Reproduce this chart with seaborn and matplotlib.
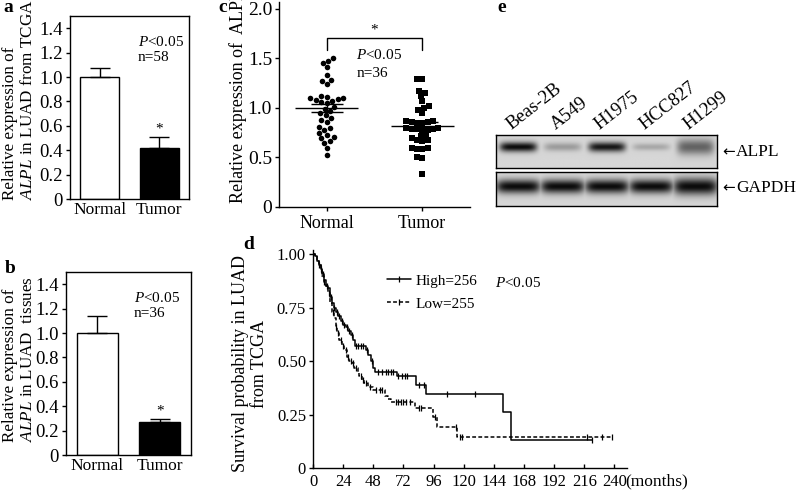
import numpy as np
import pandas as pd
import matplotlib
matplotlib.use('Agg')
import matplotlib.pyplot as plt
from matplotlib.lines import Line2D
import seaborn as sns

# ---------------- data ----------------
groups = ['Normal', 'Tumor']
tcga_mean = [1.00, 0.42]
tcga_err = [0.07, 0.085]
tissue_mean = [1.00, 0.27]
tissue_err = [0.14, 0.022]

normal_expr = [1.50, 1.47, 1.45, 1.41, 1.33, 1.28, 1.27, 1.24, 1.12, 1.11, 1.10, 1.10,
               1.09, 1.08, 1.07, 1.06, 1.05, 1.01, 0.99, 0.97, 0.95, 0.93, 0.90, 0.88,
               0.86, 0.81, 0.80, 0.78, 0.75, 0.73, 0.71, 0.70, 0.67, 0.65, 0.60, 0.53]
tumor_expr = [1.29, 1.29, 1.17, 1.15, 1.12, 1.07, 1.02, 1.00, 0.98, 0.95, 0.87, 0.87,
              0.86, 0.86, 0.85, 0.85, 0.80, 0.80, 0.79, 0.79, 0.79, 0.78, 0.78, 0.73,
              0.72, 0.70, 0.68, 0.68, 0.67, 0.60, 0.60, 0.59, 0.59, 0.50, 0.49, 0.33]

km_high_t = [0, 1.5, 3, 4.5, 6, 7.5, 9, 10, 12, 13.5, 15, 16.5, 18, 20, 22, 24, 26, 28, 30,
             32, 33.5, 42, 44, 46, 48, 49.5, 66.5, 82, 90, 151, 158, 222]
km_high_s = [1.00, 0.99, 0.97, 0.95, 0.93, 0.91, 0.88, 0.85, 0.84, 0.80, 0.77, 0.75, 0.73,
             0.71, 0.69, 0.67, 0.66, 0.64, 0.62, 0.60, 0.57, 0.55, 0.53, 0.50, 0.47, 0.45,
             0.43, 0.39, 0.345, 0.26, 0.13, 0.13]
km_low_t = [0, 1.5, 3, 4.5, 6, 7.5, 9, 10, 12, 13.5, 15, 16.5, 18, 19.5, 21, 23, 25, 27, 29,
            31, 33, 36, 37, 39, 41, 44, 48, 57, 60, 62, 81, 95.5, 99, 115, 238]
km_low_s = [1.00, 0.99, 0.97, 0.95, 0.93, 0.90, 0.87, 0.85, 0.82, 0.77, 0.73, 0.70, 0.66,
            0.63, 0.60, 0.57, 0.55, 0.52, 0.50, 0.49, 0.47, 0.45, 0.43, 0.41, 0.40, 0.38,
            0.365, 0.335, 0.325, 0.31, 0.28, 0.24, 0.19, 0.145, 0.145]
cens_high = [5, 8, 11, 14, 17, 19, 21, 23, 25, 27, 29, 31, 34, 36, 38, 40, 43, 47, 52, 55,
             58, 60, 62, 64, 68, 71, 73, 75, 84, 88, 107, 129, 222]
cens_low = [6, 9, 13, 16, 18, 20, 22, 24, 26, 28, 30, 32, 34, 38, 40, 42, 45, 50, 53, 55,
            66, 68, 70, 72, 74, 77, 84, 86, 97, 114, 117, 119, 218, 230, 238]
km_ticks = [0, 24, 48, 72, 96, 120, 144, 168, 192, 216, 240]

cell_lines = ['Beas-2B', 'A549', 'H1975', 'HCC827', 'H1299']
alpl_level = [0.97, 0.28, 0.92, 0.22, 0.55]
gapdh_level = [0.97, 0.97, 0.97, 0.97, 0.97]

# ---------------- style ----------------
sns.set_style('ticks')
plt.rcParams['font.family'] = ['Liberation Serif', 'DejaVu Serif']
plt.rcParams['mathtext.fontset'] = 'custom'
plt.rcParams['mathtext.rm'] = 'Liberation Serif'
plt.rcParams['mathtext.it'] = 'Liberation Serif:italic'
plt.rcParams['mathtext.bf'] = 'Liberation Serif:bold'
plt.rcParams['axes.edgecolor'] = 'black'
plt.rcParams['axes.linewidth'] = 1.0
plt.rcParams['xtick.color'] = 'black'
plt.rcParams['ytick.color'] = 'black'
plt.rcParams['text.color'] = 'black'

W, H = 797, 493
fig = plt.figure(figsize=(W / 100, H / 100), dpi=100)


def ax_px(l, t, r, b):
    return fig.add_axes([l / W, 1 - b / H, (r - l) / W, (b - t) / H])


ANN_FS = 11
PVAL = r'$\it{P}$<0.05'


def bar_panel(ax, means, errs, n_text, txt_x):
    df = pd.DataFrame({'group': groups, 'value': means})
    sns.barplot(data=df, x='group', y='value', hue='group', order=groups,
                palette=['white', 'black'], edgecolor='black', linewidth=1,
                width=0.66, legend=False, ax=ax)
    ax.errorbar([0, 1], means, yerr=[[0, 0], errs], fmt='none', ecolor='black',
                elinewidth=1, capsize=7.5, capthick=1)
    ax.text(1, means[1] + errs[1] + 0.015, '*', ha='center', va='bottom', fontsize=ANN_FS)
    ax.text(txt_x, 1.29, PVAL, ha='left', va='center', fontsize=ANN_FS)
    ax.text(txt_x, 1.16, n_text, ha='left', va='center', fontsize=ANN_FS)
    ax.set_xlim(-0.5, 1.5)
    ax.set_ylim(0, 1.5)
    ticks = [0, 0.2, 0.4, 0.6, 0.8, 1.0, 1.2, 1.4]
    ax.set_yticks(ticks)
    ax.set_yticklabels(['0'] + ['%.1f' % t for t in ticks[1:]])
    ax.tick_params(axis='y', direction='out', length=3, width=1, pad=2, labelsize=13.5)
    ax.tick_params(axis='x', length=0, pad=2, labelsize=12.5)
    ax.set_xlabel('')
    ax.set_ylabel('')
    for s in ax.spines.values():
        s.set_visible(True)
        s.set_linewidth(1)


# ---- panel a ----
ax_a = ax_px(70, 16, 189, 199)
bar_panel(ax_a, tcga_mean, tcga_err, 'n=58', 0.64)
fig.text(19 / W, 1 - 200 / H, 'Relative expression of\n$\\it{ALPL}$ in LUAD from TCGA',
         rotation=90, ha='center', va='bottom', multialignment='left', fontsize=12.3)

# ---- panel b ----
ax_b = ax_px(66, 272, 191, 455)
bar_panel(ax_b, tissue_mean, tissue_err, 'n=36', 0.58)
fig.text(19 / W, 1 - 442 / H, 'Relative expression of\n$\\it{ALPL}$ in LUAD  tissues',
         rotation=90, ha='center', va='bottom', multialignment='left', fontsize=12.3)

# ---- panel c ----
ax_c = ax_px(279, 2, 470, 207)
sc_df = pd.DataFrame({'group': ['Normal'] * len(normal_expr) + ['Tumor'] * len(tumor_expr),
                      'value': normal_expr + tumor_expr})
sns.swarmplot(data=sc_df[sc_df.group == 'Normal'], x='group', y='value', order=groups,
              marker='o', color='black', size=4.0, ax=ax_c)
sns.swarmplot(data=sc_df[sc_df.group == 'Tumor'], x='group', y='value', order=groups,
              marker='s', color='black', size=3.7, ax=ax_c)
for i, vals in enumerate([normal_expr, tumor_expr]):
    m = np.mean(vals)
    se = np.std(vals, ddof=1) / np.sqrt(len(vals))
    ax_c.hlines(m, i - 0.33, i + 0.33, color='black', lw=1, zorder=5)
    ax_c.hlines([m - se, m + se], i - 0.17, i + 0.17, color='black', lw=1, zorder=5)
    ax_c.vlines(i, m - se, m + se, color='black', lw=1, zorder=5)
ax_c.plot([0, 0, 1, 1], [1.59, 1.71, 1.71, 1.59], color='black', lw=1)
ax_c.text(0.5, 1.72, '*', ha='center', va='bottom', fontsize=ANN_FS)
ax_c.text(0.31, 1.53, PVAL, ha='left', va='center', fontsize=ANN_FS)
ax_c.text(0.31, 1.35, 'n=36', ha='left', va='center', fontsize=ANN_FS)
ax_c.set_xlim(-0.5, 1.5)
ax_c.set_ylim(0, 2.07)
ax_c.set_yticks([0, 0.5, 1.0, 1.5, 2.0])
ax_c.set_yticklabels(['0', '0.5', '1.0', '1.5', '2.0'])
ax_c.tick_params(axis='y', direction='out', length=3, width=1, pad=2, labelsize=14)
ax_c.tick_params(axis='x', direction='out', length=3, width=1, pad=3, labelsize=13)
ax_c.set_xlabel('')
ax_c.set_ylabel('')
sns.despine(ax=ax_c)
fig.text(238 / W, 1 - 203 / H, 'Relative expression of  ALPL', rotation=90,
         ha='center', va='bottom', fontsize=13)

# ---- panel d ----
ax_d = ax_px(313, 250, 627, 468)


def step_value(ts, ss, t):
    idx = np.searchsorted(ts, t, side='right') - 1
    return ss[max(idx, 0)]


sns.lineplot(x=km_high_t, y=km_high_s, drawstyle='steps-post', color='black', lw=1.1,
             estimator=None, sort=False, ax=ax_d)
sns.lineplot(x=km_low_t, y=km_low_s, drawstyle='steps-post', color='black', lw=1.1,
             estimator=None, sort=False, ax=ax_d)
ax_d.lines[-1].set_linestyle((0, (2.5, 1.5)))
ax_d.plot(cens_high, [step_value(km_high_t, km_high_s, t) for t in cens_high],
          ls='none', marker='|', ms=5, mew=0.9, color='black')
ax_d.plot(cens_low, [step_value(km_low_t, km_low_s, t) for t in cens_low],
          ls='none', marker='|', ms=5, mew=0.9, color='black')
handles = [Line2D([], [], color='black', lw=1.1, marker='|', ms=5, mew=0.9),
           Line2D([], [], color='black', lw=1.1, ls=(0, (2.5, 1.5)), marker='|', ms=5, mew=0.9)]
ax_d.legend(handles, ['High=256', 'Low=255'], loc='upper left', bbox_to_anchor=(0.235, 0.89),
            frameon=False, fontsize=ANN_FS, handlelength=1.6, handletextpad=0.3,
            labelspacing=0.6, borderpad=0, borderaxespad=0, numpoints=1)
ax_d.text(0.58, 0.849, PVAL, transform=ax_d.transAxes, ha='left', va='center', fontsize=ANN_FS)
ax_d.set_xlim(0, 250)
ax_d.set_ylim(0, 1.02)
ax_d.set_xticks(km_ticks)
ax_d.set_xticklabels([str(t) for t in km_ticks])
ax_d.set_yticks([0, 0.25, 0.5, 0.75, 1.0])
ax_d.set_yticklabels(['0', '0.25', '0.50', '0.75', '1.00'])
ax_d.tick_params(axis='x', direction='in', length=3, width=1, pad=4, labelsize=12)
ax_d.tick_params(axis='y', direction='out', length=3, width=1, pad=2, labelsize=12)
ax_d.annotate('(months)', xy=(240, 0), xycoords=('data', 'axes fraction'),
              xytext=(8, -4), textcoords='offset points', ha='left', va='top',
              fontsize=12.5)
sns.despine(ax=ax_d)
fig.text(250 / W, 1 - 364 / H, 'Survival probability in LUAD\nfrom TCGA', rotation=90,
         ha='center', va='center', multialignment='center', fontsize=13)

# ---- panel e (western blot) ----


def blot_image(levels, cy, thick, halfw, nx=440, ny=70):
    x = np.linspace(0, 5, nx)
    y = np.linspace(0, 1, ny)
    X, Y = np.meshgrid(x, y)
    dark = np.zeros_like(X)
    for i, lv in enumerate(levels):
        prof = np.exp(-((X - (i + 0.5)) / halfw) ** 6) * np.exp(-((Y - cy) / thick[i]) ** 2)
        dark = np.maximum(dark, lv * prof)
    return 0.84 - 0.82 * dark


ax_e1 = ax_px(496, 135, 717, 168)
ax_e2 = ax_px(496, 172, 717, 206)
ax_e1.imshow(blot_image(alpl_level, 0.36, [0.15, 0.13, 0.15, 0.11, 0.24], 0.42),
             cmap='gray', vmin=0, vmax=1, extent=(0, 5, 0, 1), aspect='auto',
             interpolation='bilinear')
ax_e2.imshow(blot_image(gapdh_level, 0.44, [0.2, 0.2, 0.2, 0.2, 0.24], 0.5),
             cmap='gray', vmin=0, vmax=1, extent=(0, 5, 0, 1), aspect='auto',
             interpolation='bilinear')
for axe in (ax_e1, ax_e2):
    axe.set_xticks([])
    axe.set_yticks([])
    for s in axe.spines.values():
        s.set_visible(True)
        s.set_linewidth(1)
for i, name in enumerate(cell_lines):
    ax_e1.text(i + 0.5 - 0.15, 1.15, name, rotation=38, rotation_mode='anchor',
               ha='left', va='baseline', fontsize=13.5)
for axe, name, yc in [(ax_e1, 'ALPL', 0.48), (ax_e2, 'GAPDH', 0.53)]:
    axe.text(1.022, yc, '\u2190', transform=axe.transAxes, ha='left', va='center',
             fontsize=11, family=['DejaVu Sans'])
    axe.text(1.086, yc, name, transform=axe.transAxes, ha='left', va='center', fontsize=12.5)

# ---- panel letters ----
for lab, x, y in [('a', 3, 12), ('b', 5, 273), ('c', 218, 12), ('d', 243, 249), ('e', 497, 12)]:
    fig.text(x / W, 1 - y / H, lab, fontweight='bold', fontsize=14, va='baseline', ha='left')

fig.savefig('out.png', dpi=100)
